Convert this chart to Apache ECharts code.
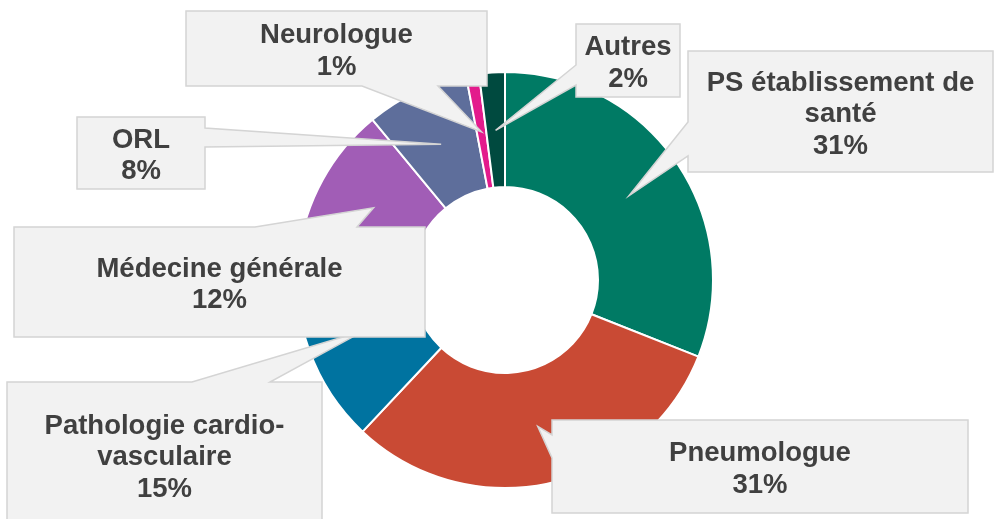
<!DOCTYPE html>
<html>
<head>
<meta charset="utf-8">
<script src="https://cdn.jsdelivr.net/npm/echarts@6/dist/echarts.min.js"></script>
<style>
    html, body { margin: 0; padding: 0; background: #fff; }
    #chart { width: 995px; height: 519px; }
</style>
</head>
<body>
<div id="chart"></div>
<script>
    // donnees
    var categories = ['PS établissement de\nsanté', 'Pneumologue', 'Pathologie cardio-\nvasculaire', 'Médecine générale', 'ORL', 'Neurologue', 'Autres'];
    var values = [31, 31, 15, 12, 8, 1, 2];
    var colors = ['#007A64', '#C94A34', '#0073A0', '#A15DB6', '#5E6E9B', '#E31B8C', '#004A3F'];

    var center = [505, 280];
    var radius = [93, 208];
    var tipRadius = 150;

    // position des bulles: boite [x0,y0,x1,y1], cote de la pointe, base de la pointe
    var callouts = [
        {box: [688, 51, 993, 172], side: 'left', base: [122, 156]},
        {box: [552, 420, 968, 513], side: 'left', base: [435, 458]},
        {box: [7, 382, 322, 527], side: 'top', base: [192, 270]},
        {box: [14, 227, 425, 337], side: 'top', base: [255, 357]},
        {box: [77, 117, 205, 189], side: 'right', base: [128, 147]},
        {box: [186, 11, 487, 86], side: 'bottom', base: [362, 438]},
        {box: [576, 24, 680, 97], side: 'left', base: [65, 85]}
    ];

    var total = values.reduce(function (a, b) { return a + b; }, 0);

    function tipPoint(i) {
        var cum = 0;
        for (var k = 0; k < i; k++) cum += values[k];
        var a = (cum + values[i] / 2) / total * 2 * Math.PI;
        return [center[0] + tipRadius * Math.sin(a), center[1] - tipRadius * Math.cos(a)];
    }

    function calloutPoints(c, tip) {
        var x0 = c.box[0], y0 = c.box[1], x1 = c.box[2], y1 = c.box[3];
        var a = c.base[0], b = c.base[1];
        var pts = [[x0, y0]];
        if (c.side === 'top') pts.push([a, y0], tip, [b, y0]);
        pts.push([x1, y0]);
        if (c.side === 'right') pts.push([x1, a], tip, [x1, b]);
        pts.push([x1, y1]);
        if (c.side === 'bottom') pts.push([b, y1], tip, [a, y1]);
        pts.push([x0, y1]);
        if (c.side === 'left') pts.push([x0, b], tip, [x0, a]);
        return pts;
    }

    // ordre de dessin: la bulle cardio passe sous celle de medecine generale
    var drawOrder = [2, 3, 4, 5, 6, 0, 1];
    var elements = [];
    drawOrder.forEach(function (i, n) {
        var c = callouts[i];
        elements.push({
            type: 'polygon',
            z: 10,
            z2: n * 2,
            shape: {points: calloutPoints(c, tipPoint(i))},
            style: {fill: '#F2F2F2', stroke: '#D4D4D4', lineWidth: 1.5}
        });
        elements.push({
            type: 'text',
            z: 10,
            z2: n * 2 + 1,
            x: (c.box[0] + c.box[2]) / 2,
            y: (c.box[1] + c.box[3]) / 2 + 3,
            style: {
                text: categories[i] + '\n' + values[i] + '%',
                fill: '#404040',
                font: 'bold 27.5px "Liberation Sans", Arial, sans-serif',
                lineHeight: 31.5,
                align: 'center',
                verticalAlign: 'middle'
            }
        });
    });

    var myChart = echarts.init(document.getElementById('chart'));
    var option = {
        animation: false,
        series: [
            {
                type: 'pie',
                center: center,
                radius: radius,
                startAngle: 90,
                clockwise: true,
                silent: true,
                label: {show: false},
                labelLine: {show: false},
                itemStyle: {borderColor: '#fff', borderWidth: 2},
                data: categories.map(function (name, i) {
                    return {name: name, value: values[i], itemStyle: {color: colors[i]}};
                })
            }
        ],
        graphic: elements
    };
    myChart.setOption(option);
</script>
</body>
</html>
